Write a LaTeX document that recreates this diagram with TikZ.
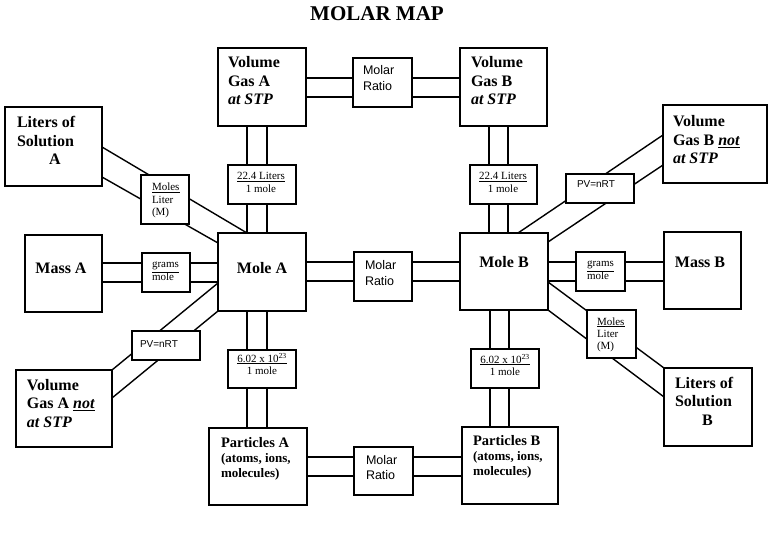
\documentclass[tikz,border=0pt]{standalone}
\usepackage{fontspec}
\setmainfont{Liberation Serif}
\newfontfamily\arialf{Liberation Sans}
\usetikzlibrary{backgrounds}
\newcommand\mlines[1]{\vtop{\halign{##\hfil\cr#1\crcr}}}
\newcommand\clines[1]{\vtop{\halign{\hfil##\hfil\cr#1\crcr}}}
\tikzset{
  box/.style={draw, fill=white, line width=1.4pt, inner sep=0pt, outer sep=0pt, anchor=north west},
  conn/.style={line width=1.4pt},
  txt/.style={inner sep=0pt, outer sep=0pt, anchor=base west},
  big/.style={txt, font=\fontsize{16}{18.5}\selectfont\bfseries},
  part/.style={txt, font=\fontsize{13}{15}\selectfont\bfseries},
  ratio/.style={txt, font=\arialf\fontsize{12.5}{15.5}\selectfont},
  pv/.style={txt, font=\arialf\fontsize{10}{12}\selectfont},
  small/.style={txt, font=\fontsize{11}{12.3}\selectfont},
}
\begin{document}
\begin{tikzpicture}[x=1pt, y=-1pt]
\useasboundingbox (0,0) rectangle (768,537);
% title
\node[font=\fontsize{21}{24}\selectfont\bfseries, inner sep=0pt, anchor=base] (title) at (377,21) {MOLAR MAP};
% boxes
\node[box, minimum width=88, minimum height=78] (vga) at (218,48) {};
\node[box, minimum width=59, minimum height=49] (r1) at (353,58) {};
\node[box, minimum width=87, minimum height=78] (vgb) at (460,48) {};
\node[box, minimum width=97, minimum height=79] (lsa) at (5,107) {};
\node[box, minimum width=48, minimum height=49] (mla) at (141,175) {};
\node[box, minimum width=68, minimum height=39] (l22a) at (228,165) {};
\node[box, minimum width=67, minimum height=39] (l22b) at (470,165) {};
\node[box, minimum width=104, minimum height=78] (vgbn) at (663,105) {};
\node[box, minimum width=68, minimum height=29] (pvb) at (566,174) {};
\node[box, minimum width=77, minimum height=77] (massa) at (25,235) {};
\node[box, minimum width=48, minimum height=39] (gma) at (142,253) {};
\node[box, minimum width=88, minimum height=78] (molea) at (218,233) {};
\node[box, minimum width=58, minimum height=49] (r2) at (354,252) {};
\node[box, minimum width=88, minimum height=77] (moleb) at (460,233) {};
\node[box, minimum width=49, minimum height=39] (gmb) at (576,252) {};
\node[box, minimum width=77, minimum height=77] (massb) at (664,232) {};
\node[box, minimum width=49, minimum height=48] (mlb) at (587,310) {};
\node[box, minimum width=88, minimum height=78] (lsb) at (664,368) {};
\node[box, minimum width=68, minimum height=29] (pva) at (132,331) {};
\node[box, minimum width=96, minimum height=77] (vgan) at (16,370) {};
\node[box, minimum width=68, minimum height=38] (l602a) at (228,350) {};
\node[box, minimum width=68, minimum height=39] (l602b) at (471,349) {};
\node[box, minimum width=98, minimum height=77] (parta) at (209,428) {};
\node[box, minimum width=59, minimum height=48] (r3) at (354,447) {};
\node[box, minimum width=96, minimum height=77] (partb) at (462,427) {};
% texts
\node[big] (vga-t) at (228,68) {\mlines{Volume\cr Gas A\cr \textit{at STP}}};
\node[big] (vgb-t) at (471,68) {\mlines{Volume\cr Gas B\cr \textit{at STP}}};
\node[big] (vgbn-t) at (673,127) {\mlines{Volume\cr Gas B \underline{\textit{not}}\cr \textit{at STP}}};
\node[big] (vgan-t) at (27,390) {\mlines{Volume\cr Gas A \underline{\textit{not}}\cr \textit{at STP}}};
\node[big] (lsa-t) at (17,128) {\mlines{Liters of\cr Solution\cr \hspace*{32pt}A}};
\node[big] (lsb-t) at (675,388) {\mlines{Liters of\cr Solution\cr \hspace*{27pt}B}};
\node[big, anchor=base] (massa-t) at (61,273) {Mass A};
\node[big, anchor=base] (molea-t) at (262,273) {Mole A};
\node[big, anchor=base] (moleb-t) at (504,268) {Mole B};
\node[big, anchor=base] (massb-t) at (700,268) {Mass B};
\node[part] (parta-t) at (221,447) {\mlines{{\fontsize{14.5}{15}\selectfont Particles A}\cr (atoms, ions,\cr molecules)}};
\node[part] (partb-t) at (473,445) {\mlines{{\fontsize{14.5}{15}\selectfont Particles B}\cr (atoms, ions,\cr molecules)}};
\node[ratio] (r1-t) at (363,75) {\mlines{Molar\cr Ratio}};
\node[ratio] (r2-t) at (365,270) {\mlines{Molar\cr Ratio}};
\node[ratio] (r3-t) at (366,464) {\mlines{Molar\cr Ratio}};
\node[small, anchor=base] (l22a-t) at (261,180) {\clines{\underline{22.4 Liters}\cr 1 mole}};
\node[small, anchor=base] (l22b-t) at (503,180) {\clines{\underline{22.4 Liters}\cr 1 mole}};
\node[small, anchor=base] (l602a-t) at (262,362) {\clines{\underline{6.02 x 10\textsuperscript{23}}\cr 1 mole}};
\node[small, anchor=base] (l602b-t) at (505,363) {\clines{\underline{6.02 x 10\textsuperscript{23}}\cr 1 mole}};
\node[small] (mla-t) at (152,191) {\mlines{\underline{Moles}\cr Liter\cr (M)}};
\node[small] (mlb-t) at (597,325) {\mlines{\underline{Moles}\cr Liter\cr (M)}};
\node[small] (gma-t) at (152,268) {\mlines{\underline{grams}\cr mole}};
\node[small] (gmb-t) at (587,267) {\mlines{\underline{grams}\cr mole}};
\node[pv] (pva-t) at (140,347) {PV=nRT};
\node[pv] (pvb-t) at (577,188) {PV=nRT};
% connectors
\begin{scope}[on background layer]
\fill[white] (0,0) rectangle (768,537);
\draw[conn] (vga.east |- 0,78) -- (vgb.west |- 0,78);
\draw[conn] (vga.east |- 0,97) -- (vgb.west |- 0,97);
\draw[conn] (vga.south -| 247,0) -- (molea.north -| 247,0);
\draw[conn] (vga.south -| 267,0) -- (molea.north -| 267,0);
\draw[conn] (vgb.south -| 489,0) -- (moleb.north -| 489,0);
\draw[conn] (vgb.south -| 508,0) -- (moleb.north -| 508,0);
\draw[conn] (molea.south -| 247,0) -- (parta.north -| 247,0);
\draw[conn] (molea.south -| 267,0) -- (parta.north -| 267,0);
\draw[conn] (moleb.south -| 490,0) -- (partb.north -| 490,0);
\draw[conn] (moleb.south -| 509,0) -- (partb.north -| 509,0);
\draw[conn] (massa.east |- 0,263) -- (molea.west |- 0,263);
\draw[conn] (massa.east |- 0,282) -- (molea.west |- 0,282);
\draw[conn] (molea.east |- 0,262) -- (moleb.west |- 0,262);
\draw[conn] (molea.east |- 0,281) -- (moleb.west |- 0,281);
\draw[conn] (moleb.east |- 0,262) -- (massb.west |- 0,262);
\draw[conn] (moleb.east |- 0,281) -- (massb.west |- 0,281);
\draw[conn] (parta.east |- 0,457) -- (partb.west |- 0,457);
\draw[conn] (parta.east |- 0,476) -- (partb.west |- 0,476);
\draw[conn] (lsa.east |- 0,147) -- (molea.north -| 247,0);
\draw[conn] (lsa.east |- 0,177) -- (molea.west |- 0,243);
\draw[conn] (vgbn.west |- 0,135) -- (moleb.north -| 518,0);
\draw[conn] (vgbn.west |- 0,165) -- (moleb.east |- 0,242);
\draw[conn] (moleb.east |- 0,282) -- (lsb.north west);
\draw[conn] (moleb.south east) -- (lsb.west |- 0,397);
\draw[conn] (molea.west |- 0,283) -- (vgan.north east);
\draw[conn] (molea.south west) -- (vgan.east |- 0,398);
\end{scope}
\end{tikzpicture}
\end{document}
